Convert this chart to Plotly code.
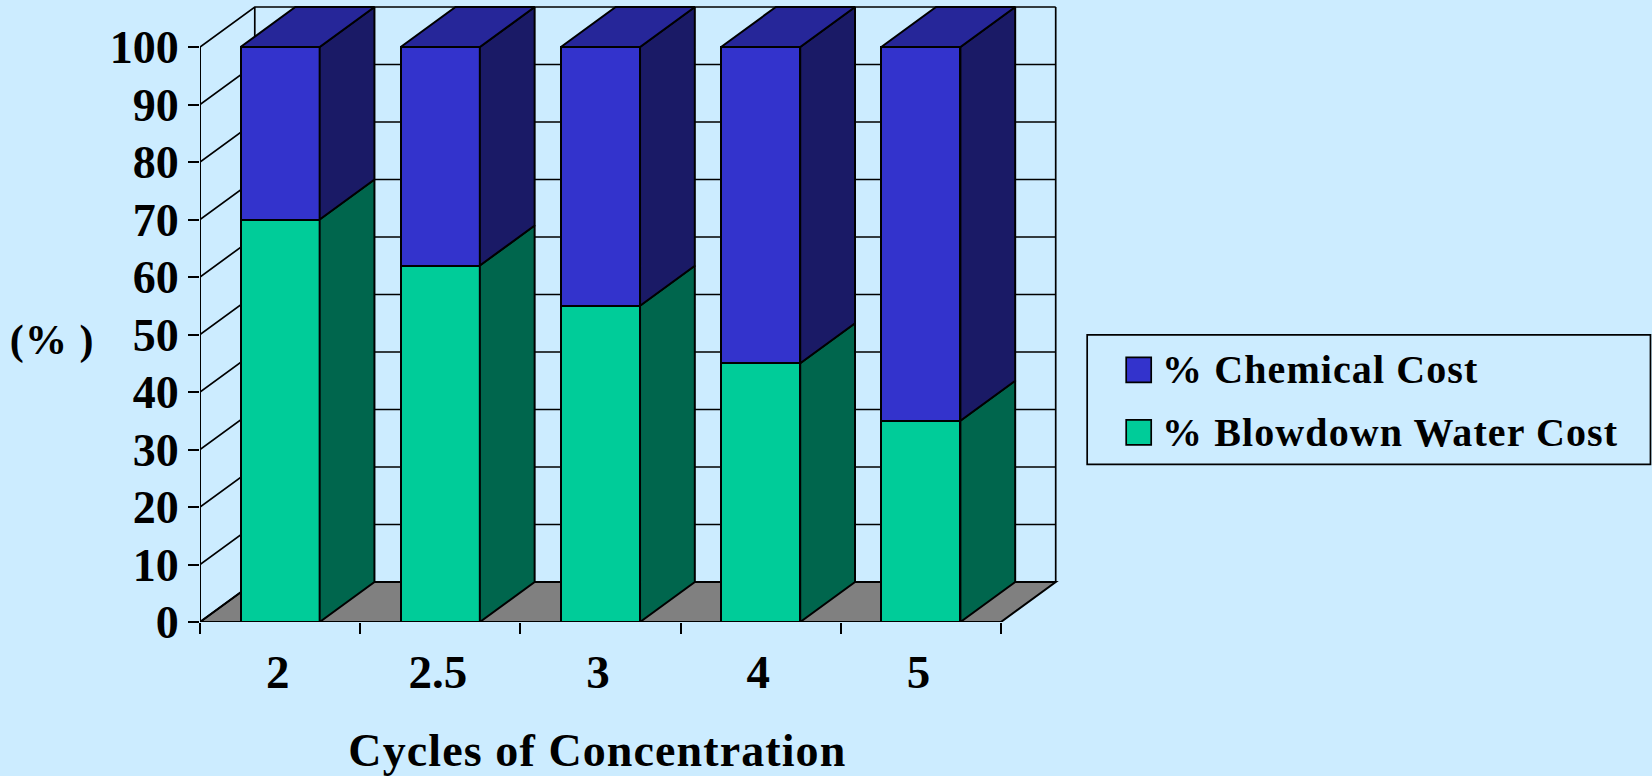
import plotly.graph_objects as go

# Chart data
categories = ["2", "2.5", "3", "4", "5"]
blowdown_cost = [70, 62, 55, 45, 35]
chemical_cost = [30, 38, 45, 55, 65]
value_ticks = [0, 10, 20, 30, 40, 50, 60, 70, 80, 90, 100]

# Colours
BG = "#CCECFF"
BLUE, BLUE_SIDE, BLUE_TOP = "#3333CC", "#1A1A66", "#262699"
GREEN, GREEN_SIDE = "#00CC99", "#00664D"
FLOOR = "#808080"
FONT = "Liberation Serif"

# Pseudo-3D geometry, in axis units
BAR_W = 0.494
DX, DY = 0.342, 6.96
X0, X1 = -0.5, len(categories) - 0.5
Y_TOP = 100

# Page layout, in pixels
W, H = 1652, 776
L, B = 200.3, 154.3
X_MAX, Y_MAX = 4.9, 108
PX_X, PX_Y = 160.1, 5.75
plot_w, plot_h = (X_MAX - X0) * PX_X, Y_MAX * PX_Y
R, T = W - L - plot_w, H - B - plot_h


def paper_x(px):
    return (px - L) / plot_w


def paper_y(py):
    return (H - B - py) / plot_h


positions = list(range(len(categories)))
# Tick labels sit slightly left of the bar centres
label_positions = [p - 0.015 for p in positions]


def side_polygons(bottoms, tops):
    xs, ys = [], []
    for p, b, t in zip(positions, bottoms, tops):
        r = p + BAR_W / 2
        xs += [r, r + DX, r + DX, r, r, None]
        ys += [b, b + DY, t + DY, t, b, None]
    return xs, ys


def top_polygons(tops):
    xs, ys = [], []
    for p, t in zip(positions, tops):
        l, r = p - BAR_W / 2, p + BAR_W / 2
        xs += [l, r, r + DX, l + DX, l, None]
        ys += [t, t, t + DY, t + DY, t, None]
    return xs, ys


stack_tops = [a + b for a, b in zip(blowdown_cost, chemical_cost)]
zeros = [0] * len(categories)

fig = go.Figure()
edge = dict(color="black", width=2)

fig.add_bar(x=positions, y=blowdown_cost, width=BAR_W, name="% Blowdown Water Cost",
            marker=dict(color=GREEN, line=edge), showlegend=False)
fig.add_bar(x=positions, y=chemical_cost, width=BAR_W, name="% Chemical Cost",
            marker=dict(color=BLUE, line=edge), showlegend=False)

for (xs, ys), colour in (
    (side_polygons(zeros, blowdown_cost), GREEN_SIDE),
    (side_polygons(blowdown_cost, stack_tops), BLUE_SIDE),
    (top_polygons(stack_tops), BLUE_TOP),
):
    fig.add_scatter(x=xs, y=ys, mode="lines", fill="toself", fillcolor=colour,
                    line=edge, hoverinfo="skip", showlegend=False, cliponaxis=False)

# Front edges of the frame
fig.add_scatter(x=[X0, X0, X1], y=[Y_TOP, 0, 0], mode="lines",
                line=edge, hoverinfo="skip", showlegend=False, cliponaxis=False)

shapes = []
# Floor
shapes.append(dict(
    type="path", layer="below", xref="x", yref="y",
    path=f"M{X0},0 L{X1},0 L{X1 + DX},{DY} L{X0 + DX},{DY} Z",
    fillcolor=FLOOR, line=dict(color="black", width=2),
))
# Wall grid: one diagonal on the left wall and one line across the back per tick
for v in value_ticks:
    shapes.append(dict(
        type="path", layer="below", xref="x", yref="y",
        path=f"M{X0},{v} L{X0 + DX},{v + DY} L{X1 + DX},{v + DY}",
        line=dict(color="black", width=1.7),
    ))
# Back wall uprights
for x in (X0 + DX, X1 + DX):
    shapes.append(dict(
        type="line", layer="below", xref="x", yref="y",
        x0=x, x1=x, y0=DY, y1=Y_TOP + DY, line=dict(color="black", width=1.7),
    ))

# Legend frame and swatches
shapes.append(dict(
    type="rect", xref="paper", yref="paper",
    x0=paper_x(1087), x1=paper_x(1650), y0=paper_y(334.5), y1=paper_y(464),
    line=dict(color="black", width=1.7), fillcolor=BG, layer="above",
))
legend_rows = [("% Chemical Cost", BLUE, 369.5), ("% Blowdown Water Cost", GREEN, 432)]
for _, colour, yc in legend_rows:
    shapes.append(dict(
        type="rect", xref="paper", yref="paper", layer="above",
        x0=paper_x(1126), x1=paper_x(1151), y0=paper_y(yc - 12.5), y1=paper_y(yc + 12.5),
        fillcolor=colour, line=dict(color="black", width=1.7),
    ))

annotations = [
    dict(text=label, xref="paper", yref="paper", x=paper_x(1160), y=paper_y(yc),
         xanchor="left", yanchor="middle", align="left", showarrow=False,
         font=dict(family=FONT, size=40, color="black", weight="bold"))
    for label, _, yc in legend_rows
]
annotations.append(dict(
    text="(% )", xref="paper", yref="paper", x=paper_x(52), y=paper_y(340),
    xanchor="center", yanchor="middle", showarrow=False,
    font=dict(family=FONT, size=42, color="black", weight="bold"),
))
annotations.append(dict(
    text="Cycles of Concentration", xref="paper", yref="paper", x=paper_x(598), y=paper_y(750),
    xanchor="center", yanchor="middle", showarrow=False,
    font=dict(family=FONT, size=46, color="black", weight="bold"),
))

fig.update_layout(
    width=W, height=H, autosize=False,
    margin=dict(l=L, r=R, t=T, b=B, pad=0),
    paper_bgcolor=BG, plot_bgcolor=BG,
    barmode="stack", showlegend=False,
    shapes=shapes, annotations=annotations,
    xaxis=dict(
        range=[X0, X_MAX], showgrid=False, zeroline=False, showline=False,
        tickmode="array", tickvals=label_positions, ticktext=categories, ticks="",
        ticklabelstandoff=18,
        tickfont=dict(family=FONT, size=47, color="black", weight="bold"),
        minor=dict(tickmode="array", tickvals=[p - 0.5 for p in positions] + [X1],
                   ticks="outside", ticklen=11, tickwidth=2, tickcolor="black", showgrid=False),
    ),
    yaxis=dict(
        range=[0, Y_MAX], showgrid=False, zeroline=False, showline=False,
        tickmode="array", tickvals=value_ticks, ticks="outside", ticklen=11,
        tickwidth=2, tickcolor="black",
        tickfont=dict(family=FONT, size=46, color="black", weight="bold"),
    ),
)

# SVG text spacing: legend rows, unit label and horizontal axis title
letter_spacing = """
var style = document.createElement('style');
style.textContent = '.annotation text{letter-spacing:1.1px}';
document.head.appendChild(style);
"""

fig.write_html("out.html", post_script=letter_spacing)
